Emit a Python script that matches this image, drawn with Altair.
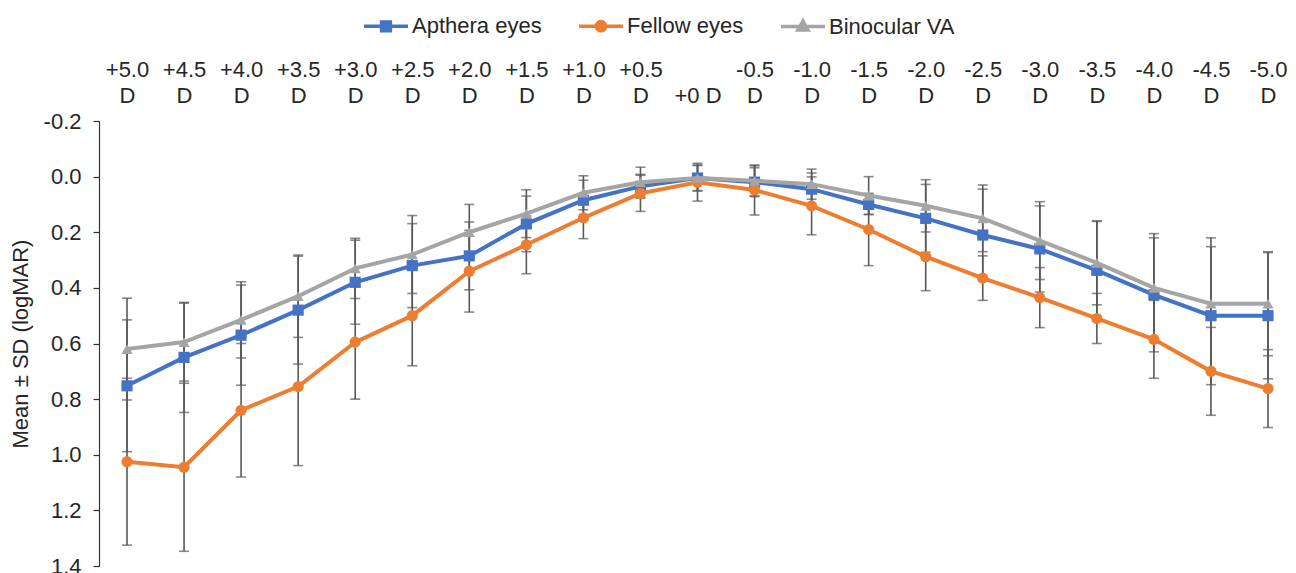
import altair as alt
import pandas as pd

categories = ["+5.0 D", "+4.5 D", "+4.0 D", "+3.5 D", "+3.0 D", "+2.5 D", "+2.0 D",
              "+1.5 D", "+1.0 D", "+0.5 D", "+0 D", "-0.5 D", "-1.0 D", "-1.5 D",
              "-2.0 D", "-2.5 D", "-3.0 D", "-3.5 D", "-4.0 D", "-4.5 D", "-5.0 D"]

series_names = ["Apthera eyes", "Fellow eyes", "Binocular VA"]
series_colors = ["#4472C4", "#ED7D31", "#A5A5A5"]
series_shapes = ["square", "circle", "triangle-up"]

apthera_mean = [0.752, 0.65, 0.57, 0.48, 0.38, 0.32, 0.285, 0.17, 0.085, 0.035, 0.005,
                0.02, 0.045, 0.10, 0.15, 0.21, 0.26, 0.337, 0.425, 0.50, 0.50]
apthera_sd = [0.237, 0.198, 0.18, 0.194, 0.151, 0.151, 0.122, 0.10, 0.072, 0.043, 0.045,
              0.052, 0.058, 0.036, 0.122, 0.165, 0.155, 0.176, 0.205, 0.248, 0.227]

fellow_mean = [1.025, 1.045, 0.84, 0.755, 0.595, 0.50, 0.34, 0.245, 0.148, 0.06, 0.02,
               0.048, 0.105, 0.19, 0.288, 0.365, 0.435, 0.51, 0.585, 0.70, 0.762]
fellow_sd = [0.30, 0.302, 0.24, 0.284, 0.205, 0.18, 0.147, 0.104, 0.075, 0.065, 0.068,
             0.09, 0.104, 0.13, 0.122, 0.08, 0.108, 0.09, 0.14, 0.158, 0.14]

binocular_mean = [0.62, 0.595, 0.515, 0.43, 0.33, 0.28, 0.20, 0.133, 0.058, 0.02, 0.005,
                  0.015, 0.027, 0.068, 0.105, 0.15, 0.23, 0.31, 0.40, 0.457, 0.457]
binocular_sd = [0.183, 0.14, 0.137, 0.148, 0.108, 0.14, 0.10, 0.086, 0.061, 0.054, 0.047,
                0.054, 0.054, 0.068, 0.094, 0.12, 0.14, 0.151, 0.195, 0.237, 0.187]

y_ticks = [-0.2, 0.0, 0.2, 0.4, 0.6, 0.8, 1.0, 1.2, 1.4]

rows = []
for name, means, sds in [(series_names[0], apthera_mean, apthera_sd),
                         (series_names[1], fellow_mean, fellow_sd),
                         (series_names[2], binocular_mean, binocular_sd)]:
    for c, m, s in zip(categories, means, sds):
        rows.append({"cat": c, "series": name, "mean": m, "lo": m - s, "hi": m + s})
df = pd.DataFrame(rows)

FONT = "Liberation Sans"
TXT = "#262626"

x_enc = alt.X("cat:N", sort=categories,
              scale=alt.Scale(type="point", range=[28, 1169], padding=0),
              axis=alt.Axis(orient="top", title=None, domain=False, ticks=False,
                            labelAngle=0, labelFontSize=22, labelFont=FONT,
                            labelColor=TXT, labelLineHeight=26.5, labelPadding=40,
                            labelBaseline="bottom",
                            labelExpr="datum.label == '+0 D' ? ['', '+0 D'] : split(datum.label, ' ')"))

y_scale = alt.Scale(domain=[-0.2, 1.4], reverse=True, nice=False, zero=False)
y_axis = alt.Axis(title="Mean ± SD (logMAR)", values=y_ticks, format=".1f",
                  labelExpr="replace(datum.label, '\u2212', '-')",
                  labelFontSize=22, labelFont=FONT, labelColor=TXT,
                  titleFontSize=22, titleFont=FONT, titleColor=TXT,
                  titleFontWeight="normal", titlePadding=11,
                  grid=False, domainColor="#333333", tickColor="#333333",
                  tickSize=6, labelPadding=12, domainWidth=1.2, tickWidth=1.2)

base = alt.Chart(df)

err_rule = base.mark_rule(color="#595959", strokeWidth=1.6).encode(
    x=x_enc, y=alt.Y("lo:Q", scale=y_scale, axis=y_axis), y2="hi:Q")
cap_lo = base.mark_tick(color="#595959", thickness=1.6, size=10).encode(
    x=x_enc, y=alt.Y("lo:Q", scale=y_scale, axis=y_axis))
cap_hi = base.mark_tick(color="#595959", thickness=1.6, size=10).encode(
    x=x_enc, y=alt.Y("hi:Q", scale=y_scale, axis=y_axis))

series_layers = []
for name, col, shp in zip(series_names, series_colors, series_shapes):
    sub = base.transform_filter(alt.datum.series == name)
    series_layers.append(sub.mark_line(strokeWidth=4, color=col).encode(
        x=x_enc, y=alt.Y("mean:Q", scale=y_scale, axis=y_axis)))
    series_layers.append(sub.mark_point(filled=True, size=125, opacity=1, color=col,
                                        shape=shp).encode(
        x=x_enc, y=alt.Y("mean:Q", scale=y_scale, axis=y_axis)))

color_scale = alt.Scale(domain=series_names, range=series_colors)
legend_paths = [
    "M-1,0H1M-0.2,-0.2H0.2V0.2H-0.2Z",
    "M-1,0H1M-0.21,0A0.21,0.21,0,1,0,0.21,0A0.21,0.21,0,1,0,-0.21,0Z",
    "M-1,0H1M0,-0.25L0.23,0.16H-0.23Z",
]
leg = alt.Legend(orient="none", legendX=263, legendY=-119, direction="horizontal",
                 title=None, symbolOpacity=1, symbolSize=1936, symbolStrokeWidth=3.5,
                 labelFontSize=22, labelFont=FONT, labelColor=TXT, labelOffset=2,
                 columnPadding=30, padding=0, labelLimit=300)

legend_layer = base.mark_point(filled=True, opacity=0).encode(
    x=x_enc, y=alt.Y("mean:Q", scale=y_scale, axis=y_axis),
    fill=alt.Fill("series:N", scale=color_scale, legend=leg),
    stroke=alt.Stroke("series:N", scale=color_scale, legend=leg),
    shape=alt.Shape("series:N", scale=alt.Scale(domain=series_names, range=legend_paths),
                    legend=leg))

chart = alt.layer(err_rule, cap_lo, cap_hi, *series_layers, legend_layer).properties(
    width=1181, height=445,
    padding={"left": 91, "top": 113, "right": 8, "bottom": 10},
    autosize=alt.AutoSizeParams(type="none"),
    background="white",
).configure_view(stroke=None)

chart.save("out.html", embed_options={"renderer": "svg", "actions": False})
